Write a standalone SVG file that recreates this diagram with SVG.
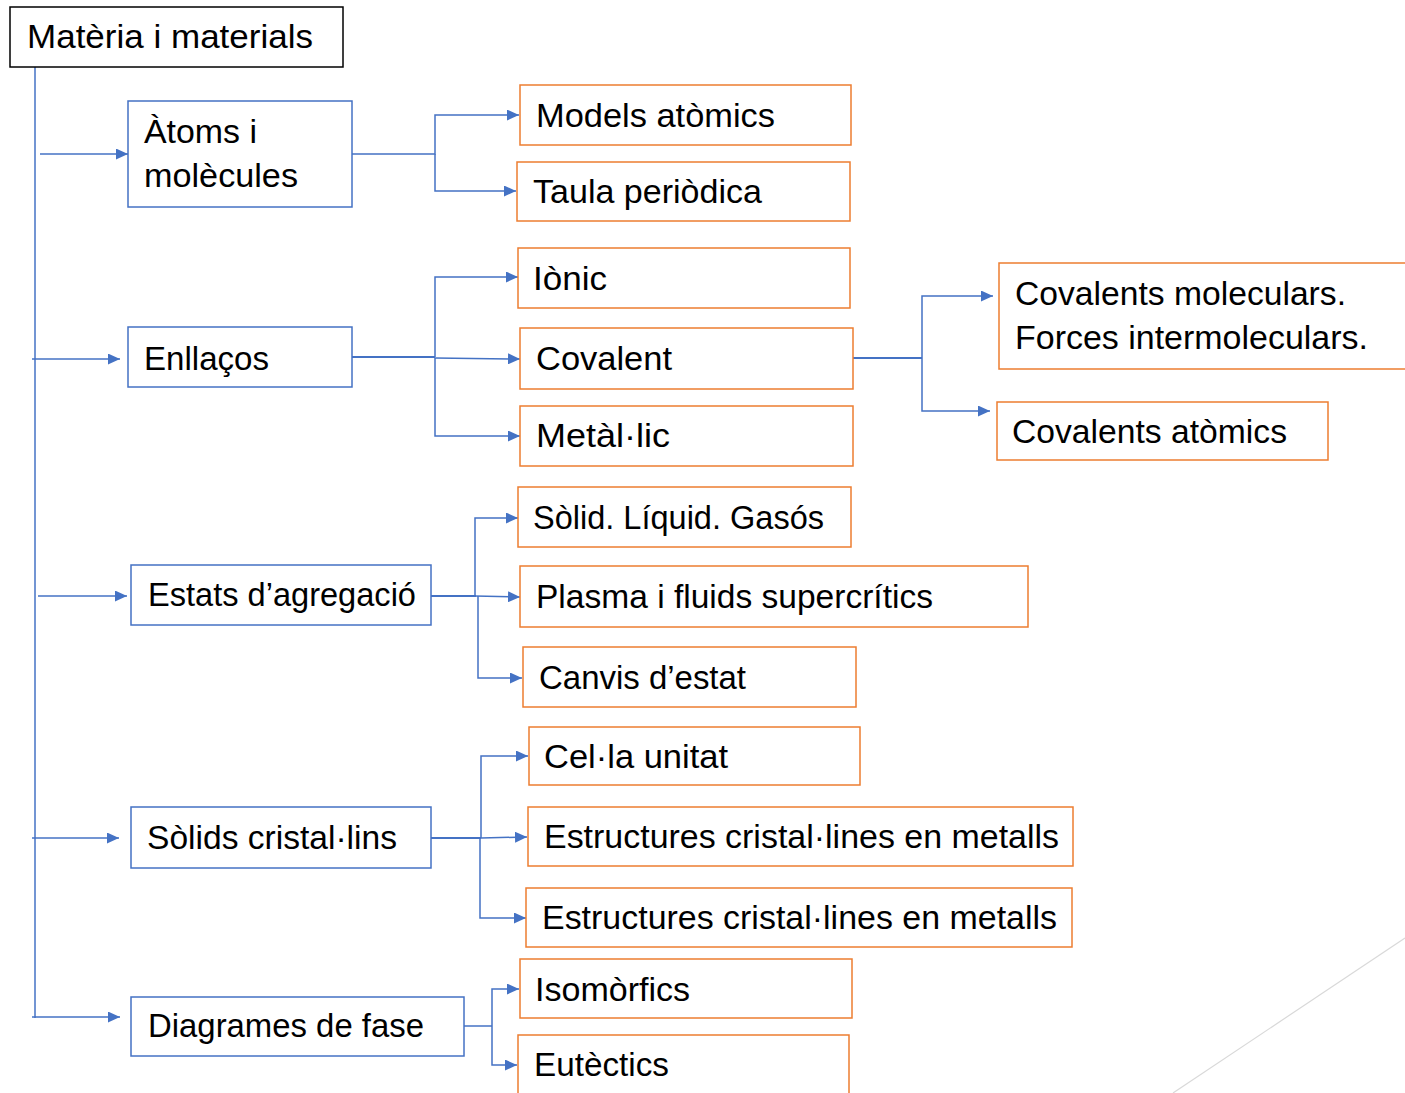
<svg xmlns="http://www.w3.org/2000/svg" width="1405" height="1093" viewBox="0 0 1405 1093">
<style>
.t{font-family:"Liberation Sans",Arial,sans-serif;font-size:34px;fill:#000}
.root{fill:#fff;stroke:#000;stroke-width:1.5}
.lvl1{fill:#fff;stroke:#4472C4;stroke-width:1.5}
.lvl2{fill:#fff;stroke:#ED7D31;stroke-width:1.5}
.c{fill:none;stroke:#4472C4;stroke-width:1.5}
</style>
<defs>
<marker id="ah" markerUnits="userSpaceOnUse" markerWidth="13" markerHeight="11" refX="12" refY="5.5" orient="auto">
<path d="M0,0 L12,5.5 L0,11 Z" fill="#4472C4"/>
</marker>
</defs>
<rect x="0" y="0" width="1405" height="1093" fill="#fff"/>
<line x1="1405" y1="938" x2="1173" y2="1093" stroke="#d9d9d9" stroke-width="1.2"/>

<g id="connectors">
<line class="c" x1="35" y1="67" x2="35" y2="1018"/>
<path class="c" d="M40 154 H128" marker-end="url(#ah)"/>
<path class="c" d="M32 359 H120" marker-end="url(#ah)"/>
<path class="c" d="M38 596 H127" marker-end="url(#ah)"/>
<path class="c" d="M32 838 H119" marker-end="url(#ah)"/>
<path class="c" d="M32 1017 H120" marker-end="url(#ah)"/>

<path class="c" d="M352 154 H435 V115 H519" marker-end="url(#ah)"/>
<path class="c" d="M435 154 V191 H516" marker-end="url(#ah)"/>

<path class="c" style="stroke-width:2.2" d="M352 357 H435"/>
<path class="c" d="M435 357 V277 H518" marker-end="url(#ah)"/>
<path class="c" d="M435 358 L520 359" marker-end="url(#ah)"/>
<path class="c" d="M435 358 V436 H520" marker-end="url(#ah)"/>

<path class="c" style="stroke-width:2.2" d="M853 358 H922"/>
<path class="c" d="M922 358 V296 H993" marker-end="url(#ah)"/>
<path class="c" d="M922 358 V411 H990" marker-end="url(#ah)"/>

<path class="c" style="stroke-width:2" d="M431 596 H476"/>
<path class="c" d="M475 596 V518 H518" marker-end="url(#ah)"/>
<path class="c" d="M475 596 L520 597" marker-end="url(#ah)"/>
<path class="c" d="M478 596 V678 H522" marker-end="url(#ah)"/>

<path class="c" style="stroke-width:2" d="M431 838 H481"/>
<path class="c" d="M481 838 V756 H528" marker-end="url(#ah)"/>
<path class="c" d="M481 838 L527 837" marker-end="url(#ah)"/>
<path class="c" d="M480 838 V918 H526" marker-end="url(#ah)"/>

<path class="c" d="M464 1026 H492"/>
<path class="c" d="M492 1026 V989 H519" marker-end="url(#ah)"/>
<path class="c" d="M492 1026 V1065 H517" marker-end="url(#ah)"/>
</g>

<g id="n-root">
<rect class="root" x="10" y="7" width="333" height="60"/>
<text class="t" x="27" y="48" textLength="286" lengthAdjust="spacingAndGlyphs">Matèria i materials</text>
</g>

<g id="n-atoms">
<rect class="lvl1" x="128" y="101" width="224" height="106"/>
<text class="t" x="144" y="143" textLength="113" lengthAdjust="spacingAndGlyphs">Àtoms i</text>
<text class="t" x="144" y="187" textLength="154" lengthAdjust="spacingAndGlyphs">molècules</text>
</g>
<g id="n-models">
<rect class="lvl2" x="520" y="85" width="331" height="60"/>
<text class="t" x="536" y="127" textLength="239" lengthAdjust="spacingAndGlyphs">Models atòmics</text>
</g>
<g id="n-taula">
<rect class="lvl2" x="517" y="162" width="333" height="59"/>
<text class="t" x="533" y="203" textLength="229" lengthAdjust="spacingAndGlyphs">Taula periòdica</text>
</g>

<g id="n-enllacos">
<rect class="lvl1" x="128" y="327" width="224" height="60"/>
<text class="t" x="144" y="370" textLength="125" lengthAdjust="spacingAndGlyphs">Enllaços</text>
</g>
<g id="n-ionic">
<rect class="lvl2" x="518" y="248" width="332" height="60"/>
<text class="t" x="533" y="290" textLength="74" lengthAdjust="spacingAndGlyphs">Iònic</text>
</g>
<g id="n-covalent">
<rect class="lvl2" x="520" y="328" width="333" height="61"/>
<text class="t" x="536" y="370" textLength="136" lengthAdjust="spacingAndGlyphs">Covalent</text>
</g>
<g id="n-metallic">
<rect class="lvl2" x="520" y="406" width="333" height="60"/>
<text class="t" x="536" y="447" textLength="134" lengthAdjust="spacingAndGlyphs">Metàl·lic</text>
</g>
<g id="n-covmol">
<rect class="lvl2" x="999" y="263" width="420" height="106"/>
<text class="t" x="1015" y="305" textLength="331" lengthAdjust="spacingAndGlyphs">Covalents moleculars.</text>
<text class="t" x="1015" y="349" textLength="353" lengthAdjust="spacingAndGlyphs">Forces intermoleculars.</text>
</g>
<g id="n-covat">
<rect class="lvl2" x="997" y="402" width="331" height="58"/>
<text class="t" x="1012" y="443" textLength="275" lengthAdjust="spacingAndGlyphs">Covalents atòmics</text>
</g>

<g id="n-estats">
<rect class="lvl1" x="131" y="565" width="300" height="60"/>
<text class="t" x="148" y="606" textLength="268" lengthAdjust="spacingAndGlyphs">Estats d’agregació</text>
</g>
<g id="n-solid">
<rect class="lvl2" x="518" y="487" width="333" height="60"/>
<text class="t" x="533" y="529" textLength="291" lengthAdjust="spacingAndGlyphs">Sòlid. Líquid. Gasós</text>
</g>
<g id="n-plasma">
<rect class="lvl2" x="520" y="566" width="508" height="61"/>
<text class="t" x="536" y="608" textLength="397" lengthAdjust="spacingAndGlyphs">Plasma i fluids supercrítics</text>
</g>
<g id="n-canvis">
<rect class="lvl2" x="523" y="647" width="333" height="60"/>
<text class="t" x="539" y="689" textLength="207" lengthAdjust="spacingAndGlyphs">Canvis d’estat</text>
</g>

<g id="n-solids">
<rect class="lvl1" x="131" y="807" width="300" height="61"/>
<text class="t" x="147" y="849" textLength="250" lengthAdjust="spacingAndGlyphs">Sòlids cristal·lins</text>
</g>
<g id="n-cella">
<rect class="lvl2" x="529" y="727" width="331" height="58"/>
<text class="t" x="544" y="768" textLength="184" lengthAdjust="spacingAndGlyphs">Cel·la unitat</text>
</g>
<g id="n-estr1">
<rect class="lvl2" x="528" y="807" width="545" height="59"/>
<text class="t" x="544" y="848" textLength="515" lengthAdjust="spacingAndGlyphs">Estructures cristal·lines en metalls</text>
</g>
<g id="n-estr2">
<rect class="lvl2" x="526" y="888" width="546" height="59"/>
<text class="t" x="542" y="929" textLength="515" lengthAdjust="spacingAndGlyphs">Estructures cristal·lines en metalls</text>
</g>

<g id="n-diagrames">
<rect class="lvl1" x="131" y="997" width="333" height="59"/>
<text class="t" x="148" y="1037" textLength="276" lengthAdjust="spacingAndGlyphs">Diagrames de fase</text>
</g>
<g id="n-isomorfics">
<rect class="lvl2" x="520" y="959" width="332" height="59"/>
<text class="t" x="535" y="1001" textLength="155" lengthAdjust="spacingAndGlyphs">Isomòrfics</text>
</g>
<g id="n-eutectics">
<rect class="lvl2" x="518" y="1035" width="331" height="70"/>
<text class="t" x="534" y="1076" textLength="135" lengthAdjust="spacingAndGlyphs">Eutèctics</text>
</g>
</svg>
